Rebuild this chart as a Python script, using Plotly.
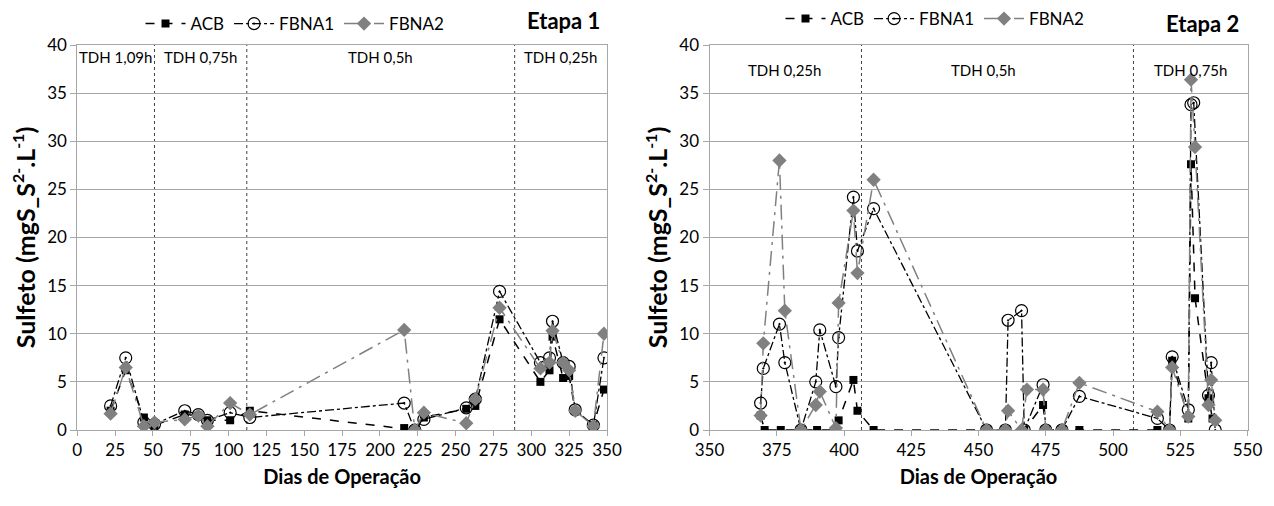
import plotly.graph_objects as go

# ---------------- Etapa 1 ----------------
dias1 = [22, 32, 44, 51, 71, 80, 86, 101, 114, 216, 223, 229, 257, 263, 279,
         306, 312, 314, 321, 325, 329, 341, 348]
acb1 = [2.0, 6.2, 1.3, 0.5, 1.6, 1.5, 1.0, 1.0, 2.0, 0.2, 0.0, 1.3, 2.2, 2.5, 11.5,
        5.0, 6.2, 9.7, 5.4, 5.6, 2.0, 0.5, 4.2]
fbna1_1 = [2.5, 7.5, 0.8, 0.6, 2.0, 1.6, 1.0, 1.8, 1.3, 2.8, 0.0, 1.1, 2.3, 3.2, 14.4,
           7.0, 7.5, 11.3, 7.0, 6.6, 2.1, 0.5, 7.5]
fbna2_1 = [1.7, 6.5, 0.4, 0.8, 1.1, 1.5, 0.4, 2.8, 1.6, 10.4, 0.0, 1.8, 0.7, 3.2, 12.7,
           6.4, 7.0, 10.3, 7.0, 6.2, 2.0, 0.4, 10.0]

limites1 = [51, 112, 289]
fases1 = ["TDH 1,09h", "TDH 0,75h", "TDH 0,5h", "TDH 0,25h"]
fases1_x = [25.5, 81.5, 200.5, 319.5]

# ---------------- Etapa 2 ----------------
dias2_acb = [369, 370.5, 376.5, 384, 390, 397, 398, 403.5, 405, 411, 453, 460, 467,
             474, 475, 481, 487.5, 516.5, 521, 522, 528, 529, 530.5, 535.5, 537]
acb2 = [1.5, 0, 0, 0, 0, 0, 1.0, 5.2, 2.0, 0, 0, 0, 0,
        2.6, 0, 0, 0, 0, 0, 7.2, 1.2, 27.6, 13.7, 3.3, 1.2]

dias2_f1 = [369, 370, 376, 378, 384, 389.5, 391, 397, 398, 403.5, 405, 411, 453, 460,
            461, 466, 467, 474, 475, 481, 487.5, 516.5, 521, 522, 528, 529, 530,
            535.5, 536.5, 538]
fbna1_2 = [2.8, 6.4, 11.0, 7.0, 0, 5.0, 10.4, 4.5, 9.6, 24.2, 18.6, 23.0, 0, 0,
           11.4, 12.4, 0, 4.7, 0, 0, 3.5, 1.2, 0, 7.6, 2.1, 33.8, 34.0,
           3.6, 7.0, 0]

dias2_f2 = [369, 370, 376, 378, 384, 389.5, 391, 397, 398, 403.5, 405, 411, 453, 460,
            461, 466, 468, 474, 475, 481, 487.5, 516.5, 521, 522, 528, 529, 530.5,
            535.5, 536.5, 538]
fbna2_2 = [1.5, 9.0, 28.0, 12.4, 0, 2.6, 4.0, 0.2, 13.2, 22.8, 16.3, 26.0, 0, 0,
           2.0, 0, 4.2, 4.2, 0, 0, 4.9, 1.9, 0, 6.5, 1.4, 36.4, 29.4,
           2.6, 5.2, 1.0]

limites2 = [406.5, 507.6]
fases2 = ["TDH 0,25h", "TDH 0,5h", "TDH 0,75h"]
fases2_x = [378, 452, 528.8]

FONT = "Lato, 'Open Sans', sans-serif"
GRID = "#a6a6a6"
CINZA = "#808080"

estilos = {
    "ACB": dict(line=dict(color="black", dash="dash", width=1.5),
                marker=dict(symbol="square", size=8, color="black")),
    "FBNA1": dict(line=dict(color="black", dash="dashdot", width=1.3),
                  marker=dict(symbol="circle-open-dot", size=12, color="black",
                              line=dict(color="black", width=1.2))),
    "FBNA2": dict(line=dict(color=CINZA, dash="longdashdot", width=1.5),
                  marker=dict(symbol="diamond", size=11, color=CINZA)),
}

fig = go.Figure()

series1 = [("ACB", dias1, acb1), ("FBNA1", dias1, fbna1_1), ("FBNA2", dias1, fbna2_1)]
series2 = [("ACB", dias2_acb, acb2), ("FBNA1", dias2_f1, fbna1_2), ("FBNA2", dias2_f2, fbna2_2)]

for nome, x, y in series1:
    fig.add_trace(go.Scatter(x=x, y=y, name=nome, mode="lines+markers",
                             xaxis="x", yaxis="y", legend="legend", **estilos[nome]))
for nome, x, y in series2:
    fig.add_trace(go.Scatter(x=x, y=y, name=nome, mode="lines+markers",
                             xaxis="x2", yaxis="y2", legend="legend2", **estilos[nome]))

# phase separators
shapes = []
for d in limites1:
    shapes.append(dict(type="line", xref="x", yref="y", x0=d, x1=d, y0=0, y1=40,
                       line=dict(color="#404040", width=1, dash="dot"), layer="below"))
for d in limites2:
    shapes.append(dict(type="line", xref="x2", yref="y2", x0=d, x1=d, y0=0, y1=40,
                       line=dict(color="#404040", width=1, dash="dot"), layer="below"))

annotations = []
for t, d in zip(fases1, fases1_x):
    annotations.append(dict(text=t, x=d, y=38.8, xref="x", yref="y", showarrow=False,
                            font=dict(family=FONT, size=15, color="black")))
for t, d in zip(fases2, fases2_x):
    annotations.append(dict(text=t, x=d, y=37.4, xref="x2", yref="y2", showarrow=False,
                            font=dict(family=FONT, size=15, color="black")))
annotations.append(dict(text="<b>Etapa 1</b>", x=602 / 1274, y=1 - 21 / 506, xref="paper",
                        yref="paper", xanchor="right", yanchor="middle", showarrow=False,
                        font=dict(family=FONT, size=22, color="black")))
annotations.append(dict(text="<b>Etapa 2</b>", x=1241 / 1274, y=1 - 24 / 506, xref="paper",
                        yref="paper", xanchor="right", yanchor="middle", showarrow=False,
                        font=dict(family=FONT, size=22, color="black")))

ytitle = ("<b>Sulfeto (mgS_S<sup><span style='font-size:16px'>2-</span></sup>"
          ".L<sup><span style='font-size:16px'>-1</span></sup>)</b>")

eixo_x = dict(showgrid=False, showline=True, linecolor=GRID, mirror=True, ticks="outside",
              tickcolor=GRID, ticklen=5, zeroline=False, automargin=False,
              tickfont=dict(family=FONT, size=17, color="black"),
              title=dict(text="<b>Dias de Operação</b>", standoff=10,
                         font=dict(family=FONT, size=20, color="black")))
eixo_y = dict(range=[0, 40], dtick=5, showgrid=True, gridcolor=GRID, gridwidth=1,
              showline=True, linecolor=GRID, mirror=True, ticks="outside", tickcolor=GRID,
              ticklen=6, zeroline=False, automargin=False,
              tickfont=dict(family=FONT, size=17, color="black"),
              title=dict(text=ytitle, standoff=4, font=dict(family=FONT, size=25, color="black")))

yd = [1 - 430 / 506, 1 - 45 / 506]

fig.update_layout(
    width=1274, height=506,
    margin=dict(l=0, r=0, t=0, b=0, autoexpand=False),
    paper_bgcolor="white", plot_bgcolor="white",
    font=dict(family=FONT, color="black"),
    xaxis=dict(eixo_x, domain=[77.3 / 1274, 607 / 1274], range=[0, 350], dtick=25),
    yaxis=dict(eixo_y, domain=yd, anchor="x"),
    xaxis2=dict(eixo_x, domain=[709.5 / 1274, 1247.5 / 1274], range=[350, 550], dtick=25,
                anchor="y2"),
    yaxis2=dict(eixo_y, domain=yd, anchor="x2"),
    legend=dict(orientation="h", x=295 / 1274, xanchor="center", y=1 - 6 / 506, yanchor="top",
                font=dict(family=FONT, size=17), bgcolor="rgba(0,0,0,0)", itemwidth=40),
    legend2=dict(orientation="h", x=935 / 1274, xanchor="center", y=1 - 1 / 506, yanchor="top",
                 font=dict(family=FONT, size=17), bgcolor="rgba(0,0,0,0)", itemwidth=40),
    shapes=shapes,
    annotations=annotations,
)

fig.write_html("out.html")
